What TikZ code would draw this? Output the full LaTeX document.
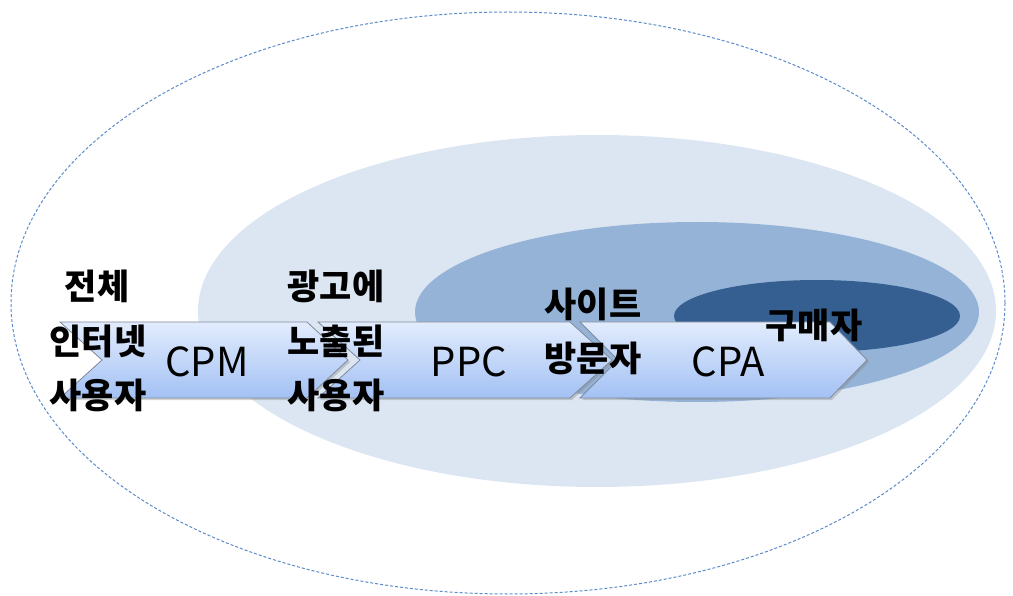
\documentclass[tikz,border=0pt]{standalone}
\usepackage{fontspec}
\setmainfont{Noto Sans CJK KR}
\usetikzlibrary{shadows}
\definecolor{outerline}{HTML}{5B8BCB}
\definecolor{lightfill}{HTML}{DCE6F2}
\definecolor{midfill}{HTML}{95B3D7}
\definecolor{darkfill}{HTML}{355F91}
\definecolor{chevtop}{HTML}{E2ECFD}
\definecolor{chevbot}{HTML}{A3C1F4}
\definecolor{chevline}{HTML}{7F8A99}
\tikzset{
  chevron/.style={draw=chevline, line width=0.8pt, top color=chevtop, bottom color=chevbot,
    drop shadow={shadow xshift=2pt, shadow yshift=-2pt, opacity=0.35}},
  kor/.style={inner sep=0pt, font=\fontsize{35}{42}\selectfont\bfseries, text=black},
  metric/.style={inner sep=0pt, font=\fontsize{40}{48}\selectfont, text=black},
}
\begin{document}
\begin{tikzpicture}[x=1pt,y=-1pt]
\useasboundingbox (0,0) rectangle (1013,596);
% ellipses
\draw[outerline, dash pattern=on 3pt off 2pt, line width=1pt] (508,303) ellipse [x radius=497, y radius=291];
\fill[lightfill] (597,311) ellipse [x radius=399, y radius=176];
\fill[midfill] (697,312) ellipse [x radius=282, y radius=90];
\fill[darkfill] (817,316) ellipse [x radius=143, y radius=36];
% chevrons
\path[chevron] (60,322) -- (307,322) -- (348,360) -- (307,398) -- (60,398) -- (102,360) -- cycle;
\path[chevron] (318,322) -- (570,322) -- (612,360) -- (570,398) -- (318,398) -- (360,360) -- cycle;
\path[chevron] (580,322) -- (830,322) -- (867,360) -- (830,398) -- (580,398) -- (618,360) -- cycle;
% labels
\node[kor] (a1) at (97,286) {전체};
\node[kor] (a2) at (98,341) {인터넷};
\node[kor] (a3) at (98,395) {사용자};
\node[kor] (b1) at (336,286) {광고에};
\node[kor] (b2) at (336,341) {노출된};
\node[kor] (b3) at (336,395) {사용자};
\node[kor] (c1) at (593,304) {사이트};
\node[kor] (c2) at (593,358) {방문자};
\node[kor] (d1) at (814,325) {구매자};
\node[metric] (m1) at (207,362) {CPM};
\node[metric] (m2) at (469,362) {PPC};
\node[metric] (m3) at (728,362) {CPA};
\end{tikzpicture}
\end{document}
